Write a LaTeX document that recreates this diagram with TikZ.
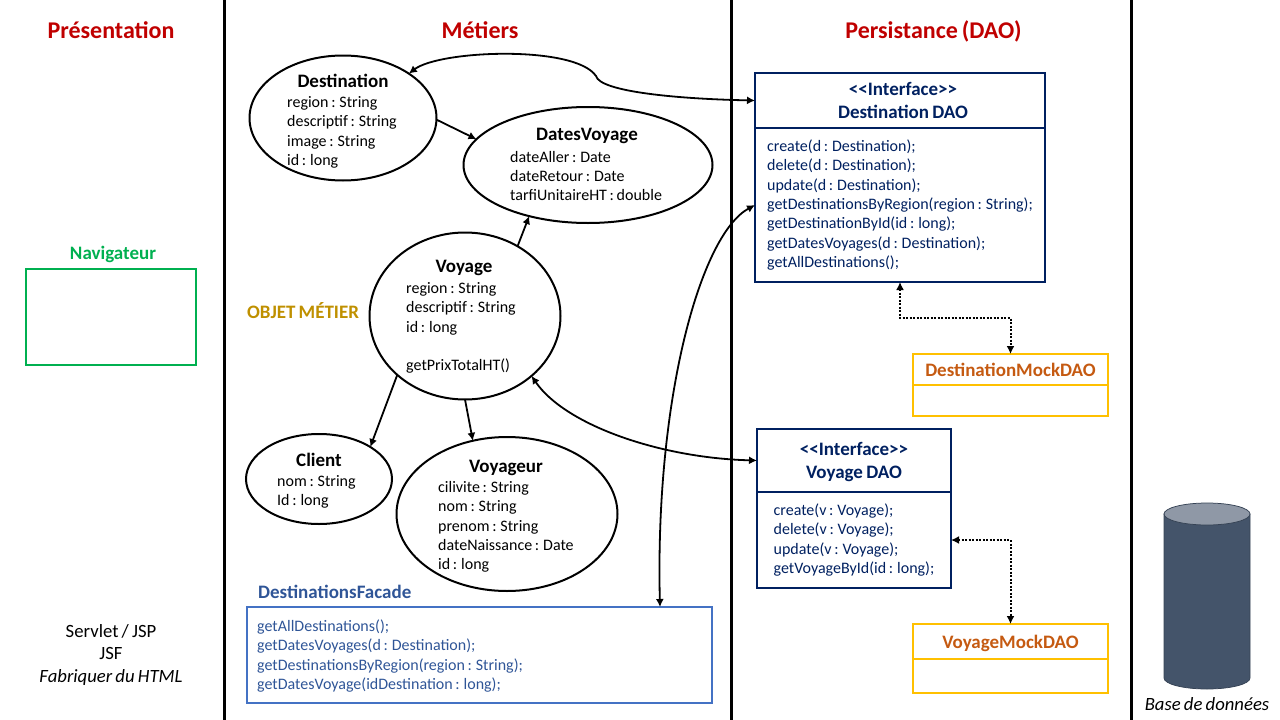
\documentclass[tikz,border=0pt]{standalone}
\usepackage{fontspec}
\setmainfont{Carlito}[WordSpace=0.75]
\usetikzlibrary{shapes.geometric,arrows.meta}
\definecolor{titlered}{HTML}{C00000}
\definecolor{navgreen}{HTML}{00B050}
\definecolor{objgold}{HTML}{BF9000}
\definecolor{facadeblue}{HTML}{4472C4}
\definecolor{facadetext}{HTML}{2F5597}
\definecolor{daoblue}{HTML}{002060}
\definecolor{mockline}{HTML}{FFC000}
\definecolor{mocktext}{HTML}{C55A11}
\definecolor{dbside}{HTML}{44546A}
\definecolor{dbtop}{HTML}{8F98A6}
\begin{document}
\begin{tikzpicture}[x=1pt,y=-1pt]
	\tikzstyle{Rule} = [line width=3pt]
	\tikzstyle{Layer} = [font=\fontsize{24}{28}\selectfont\bfseries, text=titlered, inner sep=0pt]
	\tikzstyle{Plain} = [font=\fontsize{18.7}{22.5}\selectfont, align=center, inner sep=0pt]
	\tikzstyle{Entity} = [ellipse, draw, line width=2pt, inner sep=0pt, outer sep=0pt, fill=white]
	\tikzstyle{Title} = [font=\fontsize{19}{22}\selectfont\bfseries, inner sep=0pt]
	\tikzstyle{Attrs} = [font=\fontsize{16}{19.4}\selectfont, align=left, anchor=west, inner sep=0pt]
	\tikzstyle{Head} = [rectangle, draw=daoblue, line width=2pt, text=daoblue, outer sep=0pt, inner sep=0pt, align=center, text depth=0pt, font=\fontsize{19}{23}\selectfont\bfseries]
	\tikzstyle{Body} = [rectangle, draw=daoblue, line width=2pt, text=daoblue, outer sep=0pt, inner sep=0pt, align=left, font=\fontsize{16}{19.4}\selectfont]
	\tikzstyle{MockHead} = [rectangle, draw=mockline, line width=2pt, text=mocktext, outer sep=0pt, inner sep=0pt, minimum width=195, text depth=0pt, font=\fontsize{19}{22}\selectfont\bfseries]
	\tikzstyle{MockBody} = [rectangle, draw=mockline, line width=2pt, outer sep=0pt, inner sep=0pt, minimum width=195]
	\tikzstyle{Link} = [line width=1.8pt, >={Latex[length=8pt,width=8pt]}]
	\tikzstyle{Mock} = [line width=2pt, >={Latex[length=8pt,width=8pt]}, dash pattern=on 2pt off 1.5pt]

	\useasboundingbox (0,0) rectangle (1280,720);

	% columns
	\draw [Rule] (224,0) to (224,720);
	\draw [Rule] (731,0) to (731,720);
	\draw [Rule] (1131,0) to (1131,720);
	\node (presentation) at (111,30) [Layer] {Présentation};
	\node (metiers) at (480,30) [Layer] {Métiers};
	\node (persistance) at (933.5,31) [Layer] {Persistance (DAO)};

	% presentation
	\node (navTitle) at (113,254) [font=\fontsize{19}{22}\selectfont\bfseries, text=navgreen, inner sep=0pt] {Navigateur};
	\node (nav) at (111,317) [rectangle, draw=navgreen, line width=2pt, outer sep=0pt, minimum width=170, minimum height=96] {};
	\node (servlet) at (111,655) [Plain] {Servlet / JSP\\JSF\\\textit{Fabriquer du HTML}};

	% metier
	\node (objet) at (303,311) [font=\fontsize{19}{22}\selectfont\bfseries, text=objgold, inner sep=0pt] {OBJET MÉTIER};
	\node (dest) at (343,118) [Entity, minimum width=187, minimum height=125] {};
	\node (destTitle) at (343,81) [Title] {Destination};
	\node (destAttrs) at (287,132.5) [Attrs] {region : String\\descriptif : String\\image : String\\id : long};
	\node (dates) at (588,165) [Entity, minimum width=249, minimum height=116] {};
	\node (datesTitle) at (587,136) [Title] {DatesVoyage};
	\node (datesAttrs) at (510,176) [Attrs] {dateAller : Date\\dateRetour : Date\\tarfiUnitaireHT : double};
	\node (voyage) at (465,316) [Entity, minimum width=191, minimum height=167] {};
	\node (voyageTitle) at (464,268) [Title] {Voyage};
	\node (voyageAttrs) at (406,328) [Attrs] {region : String\\descriptif : String\\id : long\\\\getPrixTotalHT()};
	\node (client) at (319,479) [Entity, minimum width=146, minimum height=90] {};
	\node (clientTitle) at (319,460) [Title] {Client};
	\node (clientAttrs) at (277,492) [Attrs] {nom  : String\\Id : long};
	\node (voyageur) at (507,514) [Entity, minimum width=221, minimum height=154] {};
	\node (voyageurTitle) at (506,468) [Title] {Voyageur};
	\node (voyageurAttrs) at (438,527) [Attrs] {cilivite : String\\nom  : String\\prenom  : String\\dateNaissance : Date\\id : long};
	\node (facadeTitle) at (258,592) [anchor=west, font=\fontsize{19}{22}\selectfont\bfseries, text=facadetext, inner sep=0pt] {DestinationsFacade};
	\node (facade) at (479.5,655) [rectangle, draw=facadeblue, line width=2pt, outer sep=0pt, minimum width=465, minimum height=96] {};
	\node (facadeText) at (257,656) [Attrs, text=facadetext] {getAllDestinations();\\getDatesVoyages(d : Destination);\\getDestinationsByRegion(region : String);\\getDatesVoyage(idDestination : long);};

	% dao
	\node (destHead) at (900,100.5) [Head, minimum width=290, minimum height=55] {\hspace*{6pt}<{}<Interface>{}>\\\hspace*{6pt}Destination DAO};
	\node (destBody) at (900,205) [Body, minimum width=290, minimum height=154] {create(d : Destination);\\delete(d : Destination);\\update(d  : Destination);\\getDestinationsByRegion(region : String);\\getDestinationById(id : long);\\getDatesVoyages(d : Destination);\\getAllDestinations();};
	\node (destMock) at (1010.5,369.5) [MockHead, minimum height=31] {DestinationMockDAO};
	\node (destMockBody) at (1010.5,400.5) [MockBody, minimum height=31] {};
	\node (voyHead) at (854,460.5) [Head, minimum width=194, minimum height=63] {<{}<Interface>{}>\\Voyage DAO};
	\node (voyBody) at (854,540) [Body, minimum width=194, minimum height=96] {create(v : Voyage);\\delete(v : Voyage);\\update(v : Voyage);\\getVoyageById(id : long);};
	\node (voyMock) at (1010.5,641.5) [MockHead, minimum height=35] {VoyageMockDAO};
	\node (voyMockBody) at (1010.5,676) [MockBody, minimum height=34] {};

	% base
	\draw [draw=dbside!80!black, line width=0.75pt, fill=dbside] (1164,514) -- (1164,678) arc [start angle=180, end angle=0, x radius=43, y radius=11] -- (1250,514) -- cycle;
	\draw [draw=dbside!80!black, line width=0.75pt, fill=dbtop] (1207,514) ellipse [x radius=43, y radius=11];
	\node (baseText) at (1207,704) [font=\fontsize{18.7}{22}\selectfont\itshape, inner sep=0pt] {Base de données};

	% liens
	\coordinate (destBend) at (596,76);
	\coordinate (destDotted) at (900,318);
	\coordinate (facadeIn) at (660,607);
	\draw [Link, <->] (dest.34) .. controls (440,50) and (575,45) .. (destBend) .. controls (600,92) and (680,99) .. (destHead.west);
	\draw [Link, ->] (dest.-1) to (dates.167);
	\draw [Link, ->] (voyage.53) to (dates.221);
	\draw [Link, ->] (voyage.221) to (client.32);
	\draw [Link, ->] (voyage.-90) to (voyageur.115);
	\draw [Link, <->] (voyage.-42) .. controls (565,425) and (660,458) .. (voyHead.west);
	\draw [Link, <->] (destBody.west) .. controls (700,235) and (655,400) .. (facadeIn);
	\draw [Mock, <->] (destBody.south) to (destDotted) -| (destMock.north);
	\draw [Mock, <->] (voyBody.east) -| (voyMock.north);
\end{tikzpicture}
\end{document}
